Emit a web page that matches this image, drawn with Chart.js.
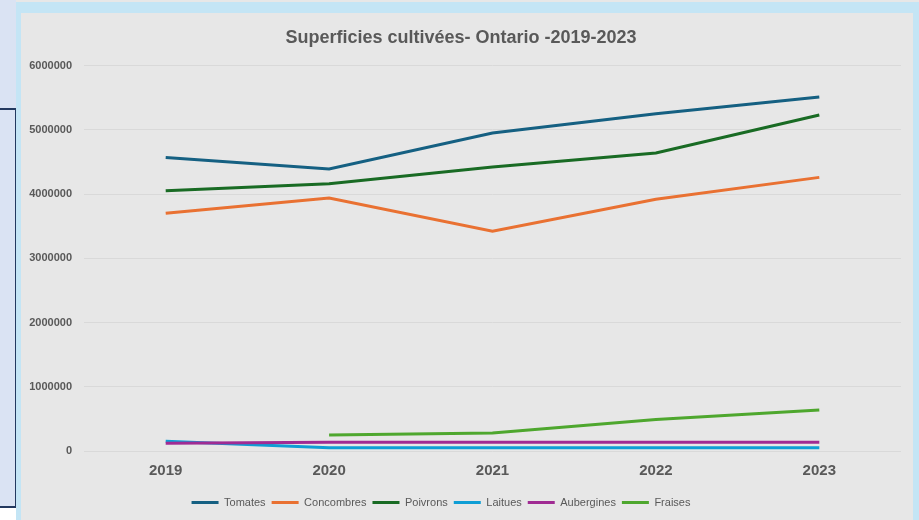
<!DOCTYPE html>
<html lang="fr">
<head>
<meta charset="utf-8">
<title>Superficies cultivées - Ontario</title>
<script src="https://cdn.jsdelivr.net/npm/chart.js@4/dist/chart.umd.min.js"></script>
<style>
  html, body { margin: 0; padding: 0; }
  body { width: 919px; height: 520px; overflow: hidden; position: relative; background: #dae3f3; }
  .blanc { position: absolute; left: 0; top: 506px; width: 16px; height: 14px; background: #fff; }
  .cadre-gauche { position: absolute; left: -3px; top: 108px; width: 16px; height: 396px; border: 2px solid #23395f; }
  .bande-haut { position: absolute; left: 16px; top: 0; width: 903px; height: 2px; background: #e7e7e7; }
  .cadre { position: absolute; left: 16px; top: 2px; width: 903px; height: 518px; background: #c4e5f5; }
  .zone { position: absolute; left: 21px; top: 13px; width: 892px; height: 507px; background: #e7e7e7; }
</style>
</head>
<body>
<div class="blanc"></div>
<div class="cadre-gauche"></div>
<div class="bande-haut"></div>
<div class="cadre"></div>
<div class="zone"><canvas id="graphique" width="892" height="507"></canvas></div>

<script>
const annees = ['2019', '2020', '2021', '2022', '2023'];

const tomates     = [4570000, 4390000, 4950000, 5250000, 5510000];
const concombres  = [3700000, 3940000, 3420000, 3920000, 4260000];
const poivrons    = [4050000, 4160000, 4420000, 4640000, 5230000];
const laitues     = [150000, 50000, 50000, 50000, 50000];
const aubergines  = [120000, 135000, 135000, 135000, 135000];
const fraises     = [null, 248000, 280000, 492000, 640000];

const noms = ['Tomates', 'Concombres', 'Poivrons', 'Laitues', 'Aubergines', 'Fraises'];
const couleurs = ['#156082', '#e97132', '#196b24', '#0f9ed5', '#a02b93', '#4ea72e'];
const series = [tomates, concombres, poivrons, laitues, aubergines, fraises];

const gris = '#595959';
const police = "'Liberation Sans', Arial, sans-serif";

// la légende d'Excel n'est pas centrée sur le graphique : on la décale un peu
const decalageLegende = {
  id: 'decalageLegende',
  afterLayout(chart) {
    const lg = chart.legend;
    if (lg) { lg.left -= 20; lg.right -= 20; }
  }
};

new Chart(document.getElementById('graphique'), {
  type: 'line',
  data: {
    labels: annees,
    datasets: series.map((valeurs, i) => ({
      label: noms[i],
      data: valeurs,
      borderColor: couleurs[i],
      backgroundColor: couleurs[i],
      borderWidth: 3,
      pointRadius: 0,
      tension: 0,
      fill: false,
      spanGaps: false,
      order: series.length - i
    }))
  },
  options: {
    responsive: false,
    animation: false,
    layout: { padding: { left: 0, right: 12, top: 0, bottom: 2 } },
    plugins: {
      title: {
        display: true,
        text: 'Superficies cultivées- Ontario -2019-2023',
        color: gris,
        font: { family: police, size: 18, weight: 'bold' },
        padding: { top: 14, bottom: 17 }
      },
      legend: {
        position: 'bottom',
        labels: {
          usePointStyle: true,
          pointStyle: 'line',
          pointStyleWidth: 27,
          boxHeight: 11,
          padding: 6,
          color: gris,
          font: { family: police, size: 11 },
          sort: (a, b) => a.datasetIndex - b.datasetIndex
        }
      },
      tooltip: { enabled: false }
    },
    scales: {
      x: {
        offset: true,
        grid: { display: false, drawTicks: false },
        border: { display: false },
        ticks: {
          color: gris,
          padding: 11,
          font: { family: police, size: 15, weight: 'bold' }
        }
      },
      y: {
        min: 0,
        max: 6000000,
        grid: { color: '#d9d9d9', lineWidth: 1, drawTicks: false },
        border: { display: false },
        afterFit(axis) { axis.width = 63; },
        ticks: {
          stepSize: 1000000,
          color: gris,
          padding: 12,
          font: { family: police, size: 11, weight: 'bold' },
          callback: (v) => String(v)
        }
      }
    }
  },
  plugins: [decalageLegende]
});
</script>
</body>
</html>
